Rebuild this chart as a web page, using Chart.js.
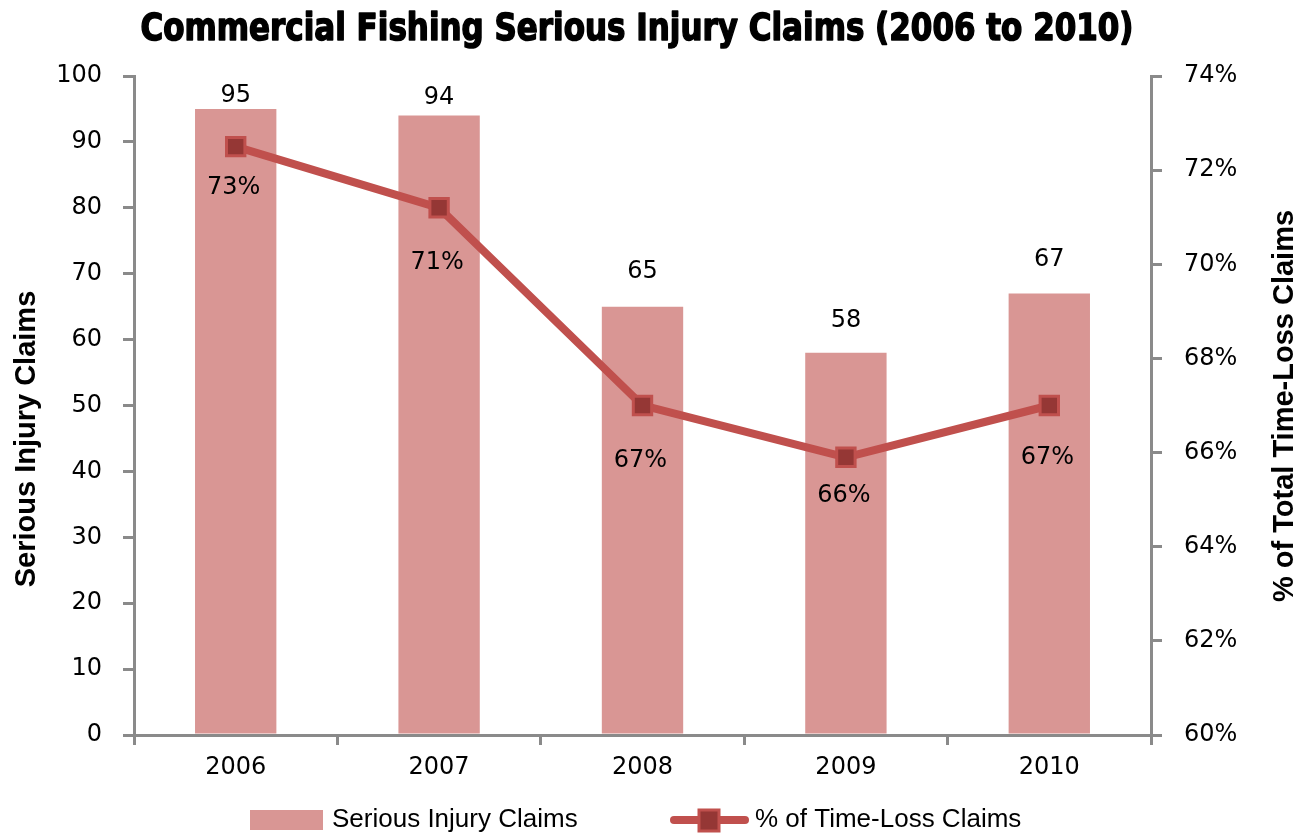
<!DOCTYPE html>
<html>
<head>
<meta charset="utf-8">
<title>Commercial Fishing Serious Injury Claims</title>
<script src="https://cdn.jsdelivr.net/npm/chart.js@4.4.1/dist/chart.umd.min.js"></script>
<style>
  html, body { margin: 0; padding: 0; background: #fff; }
  #wrap { width: 1305px; height: 835px; }
</style>
</head>
<body>
<div id="wrap"><canvas id="myChart" width="1305" height="835"></canvas></div>
<script>
const years = ['2006', '2007', '2008', '2009', '2010']
const seriousClaims = [95, 94, 65, 58, 67]
const timeLossPct = [72.5, 71.2, 67.0, 65.9, 67.0]

const barColor = '#d99694'
const lineColor = '#c0504d'
const markerFill = '#953735'
const axisGray = '#8a8a8a'

// how far each value label sits from its bar top / line point
const barLabelGap = [13, 18, 35, 32, 34]
const lineLabelGap = [41, 55, 55, 38, 52]

Chart.defaults.font.family = '"DejaVu Sans", sans-serif'
Chart.defaults.color = '#000'

const valueLabels = {
    id: 'valueLabels',
    afterDatasetsDraw(chart) {
        const ctx = chart.ctx
        ctx.save()
        ctx.font = '24px "DejaVu Sans"'
        ctx.fillStyle = '#000'
        ctx.textAlign = 'center'
        ctx.textBaseline = 'middle'
        chart.getDatasetMeta(0).data.forEach((bar, i) => {
            ctx.fillText(seriousClaims[i], bar.x, bar.y - barLabelGap[i])
        })
        chart.getDatasetMeta(1).data.forEach((pt, i) => {
            ctx.fillText(Math.round(timeLossPct[i]) + '%', pt.x - 2, pt.y + lineLabelGap[i])
        })
        ctx.restore()
    }
}

// title, rotated axis titles and the legend row
const decorations = {
    id: 'decorations',
    afterDraw(chart) {
        const ctx = chart.ctx
        ctx.save()
        ctx.fillStyle = '#000'

        // heavy title, squeezed to its box width
        const title = 'Commercial Fishing Serious Injury Claims (2006 to 2010)'
        ctx.font = 'bold 37px "DejaVu Sans"'
        const w = ctx.measureText(title).width
        const targetW = 993
        ctx.save()
        ctx.translate(637, 40)
        ctx.scale(targetW / w, 1)
        ctx.textAlign = 'center'
        ctx.textBaseline = 'alphabetic'
        ctx.strokeStyle = '#000'
        ctx.lineWidth = 1.6
        ctx.lineJoin = 'round'
        ctx.strokeText(title, 0, 0)
        ctx.fillText(title, 0, 0)
        ctx.restore()

        ctx.font = 'bold 29px "Liberation Sans"'
        ctx.textAlign = 'center'
        ctx.textBaseline = 'alphabetic'
        ctx.save()
        ctx.translate(35, 439)
        ctx.rotate(-Math.PI / 2)
        ctx.fillText('Serious Injury Claims', 0, 0)
        ctx.restore()

        ctx.save()
        ctx.translate(1293, 406)
        ctx.rotate(-Math.PI / 2)
        ctx.fillText('% of Total Time-Loss Claims', 0, 0)
        ctx.restore()

        // legend
        const ly = 820
        ctx.fillStyle = barColor
        ctx.fillRect(250, ly - 10, 73, 20)
        ctx.font = '26px "Liberation Sans"'
        ctx.fillStyle = '#000'
        ctx.textAlign = 'left'
        ctx.textBaseline = 'middle'
        ctx.fillText('Serious Injury Claims', 332, ly)

        ctx.strokeStyle = lineColor
        ctx.lineWidth = 8
        ctx.lineCap = 'round'
        ctx.beginPath()
        ctx.moveTo(674, ly)
        ctx.lineTo(745, ly)
        ctx.stroke()
        ctx.fillStyle = markerFill
        ctx.lineWidth = 3
        ctx.fillRect(699, ly - 10, 20, 21)
        ctx.strokeRect(699, ly - 10, 20, 21)
        ctx.fillStyle = '#000'
        ctx.fillText('% of Time-Loss Claims', 755, ly)

        ctx.restore()
    }
}

const axisGrid = {
    drawOnChartArea: false,
    color: axisGray,
    lineWidth: 3
}

let myChart = document.getElementById('myChart').getContext('2d')
let claimsChart = new Chart(myChart, {
    type: 'bar',
    data: {
        labels: years,
        datasets: [{
            type: 'bar',
            label: 'Serious Injury Claims',
            data: seriousClaims,
            yAxisID: 'y',
            backgroundColor: barColor,
            barPercentage: 0.4,
            categoryPercentage: 1,
            order: 2
        }, {
            type: 'line',
            label: '% of Time-Loss Claims',
            data: timeLossPct,
            yAxisID: 'y1',
            borderColor: lineColor,
            borderWidth: 8,
            pointStyle: 'rect',
            pointRadius: 13,
            pointBorderWidth: 3,
            pointBackgroundColor: markerFill,
            pointBorderColor: lineColor,
            tension: 0,
            order: 1
        }]
    },
    options: {
        responsive: false,
        animation: false,
        devicePixelRatio: 1,
        layout: {
            padding: { top: 76, left: 0, right: 0, bottom: 0 }
        },
        plugins: {
            legend: { display: false },
            title: { display: false },
            tooltip: { enabled: false }
        },
        scales: {
            x: {
                grid: { ...axisGrid, offset: true, tickLength: 10 },
                border: { color: axisGray, width: 3 },
                ticks: { font: { size: 24 }, padding: 8, color: '#000' },
                afterFit: scale => { scale.height = 100 }
            },
            y: {
                position: 'left',
                min: 0,
                max: 100,
                grid: { ...axisGrid, tickLength: 11 },
                border: { color: axisGray, width: 3 },
                ticks: { stepSize: 10, font: { size: 24 }, padding: 21, color: '#000' },
                afterFit: scale => { scale.width = 134 }
            },
            y1: {
                position: 'right',
                min: 60,
                max: 74,
                grid: { ...axisGrid, tickLength: 11 },
                border: { color: axisGray, width: 3 },
                ticks: {
                    stepSize: 2,
                    font: { size: 24 },
                    padding: 22,
                    color: '#000',
                    callback: v => v + '%'
                },
                afterFit: scale => { scale.width = 154 }
            }
        }
    },
    plugins: [valueLabels, decorations]
})
</script>
</body>
</html>
